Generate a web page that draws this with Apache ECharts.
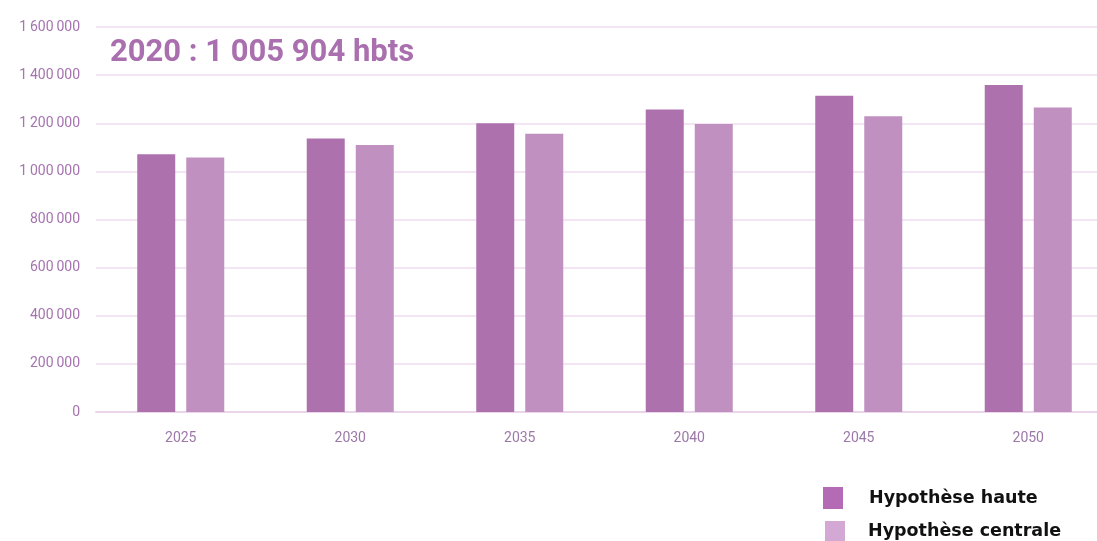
<!DOCTYPE html>
<html><head><meta charset="utf-8">
<script src="https://cdn.jsdelivr.net/npm/echarts@6/dist/echarts.min.js"></script>
<style>html,body{margin:0;padding:0;background:#fff}#c{width:1097px;height:541px}</style>
</head><body><div id="c"></div>
<script>
var categories = ['2025','2030','2035','2040','2045','2050'];
var hauteValues = [1071000, 1137000, 1200000, 1257000, 1314000, 1359000];
var centraleValues = [1058000, 1110000, 1156000, 1197000, 1229000, 1265000];
var seriesNames = ['Hypothèse haute', 'Hypothèse centrale'];
var titleText = '2020 : 1 005 904 hbts';

function fmt(v){
  var s = String(Math.round(v));
  return s.replace(/\B(?=(\d{3})+(?!\d))/g, '\u2009');
}

var legendText1 = {fontFamily: 'DejaVu Sans, sans-serif', fontWeight: 'bold', fontSize: 17.5, color: '#111', padding: [0,0,0,21]};
var legendText2 = {fontFamily: 'DejaVu Sans, sans-serif', fontWeight: 'bold', fontSize: 17.5, color: '#111', padding: [0,0,0,18]};

var chart = echarts.init(document.getElementById('c'));
chart.setOption({
  animation: false,
  backgroundColor: '#fff',
  title: {
    text: titleText, left: 105, top: 33,
    textStyle: {fontFamily: 'Roboto, sans-serif', fontWeight: 'bold', fontSize: 31, color: '#a96fae'}
  },
  legend: [
    {
      left: 823, top: 487, itemWidth: 20, itemHeight: 22, icon: 'rect', padding: 0,
      textStyle: legendText1,
      data: [{name: seriesNames[0], itemStyle: {color: '#b46ab4'}}]
    },
    {
      left: 825, top: 521, itemWidth: 20, itemHeight: 20, icon: 'rect', padding: 0,
      textStyle: legendText2,
      data: [{name: seriesNames[1], itemStyle: {color: '#d4a8d4'}}]
    }
  ],
  grid: {left: 96, top: 27, width: 1017, bottom: 129, containLabel: false, outerBoundsMode: 'none'},
  xAxis: {
    type: 'category', data: categories,
    axisLine: {show: true, lineStyle: {color: '#ead5ea', width: 2}},
    axisTick: {show: false},
    axisLabel: {margin: 19, fontFamily: 'Roboto, sans-serif', fontSize: 14, color: '#9c78a8'}
  },
  yAxis: {
    type: 'value', min: 0, max: 1600000, interval: 200000,
    axisLine: {show: false}, axisTick: {show: false},
    splitLine: {lineStyle: {color: '#efdcef', width: 1.5}},
    axisLabel: {margin: 16, fontFamily: 'Roboto, sans-serif', fontSize: 14, color: '#a574b0', formatter: fmt}
  },
  series: [
    {name: seriesNames[0], type: 'bar', data: hauteValues, barWidth: 38, barGap: '29%', itemStyle: {color: '#ad72ad'}},
    {name: seriesNames[1], type: 'bar', data: centraleValues, barWidth: 38, itemStyle: {color: '#c091c0'}}
  ]
});
</script></body></html>
